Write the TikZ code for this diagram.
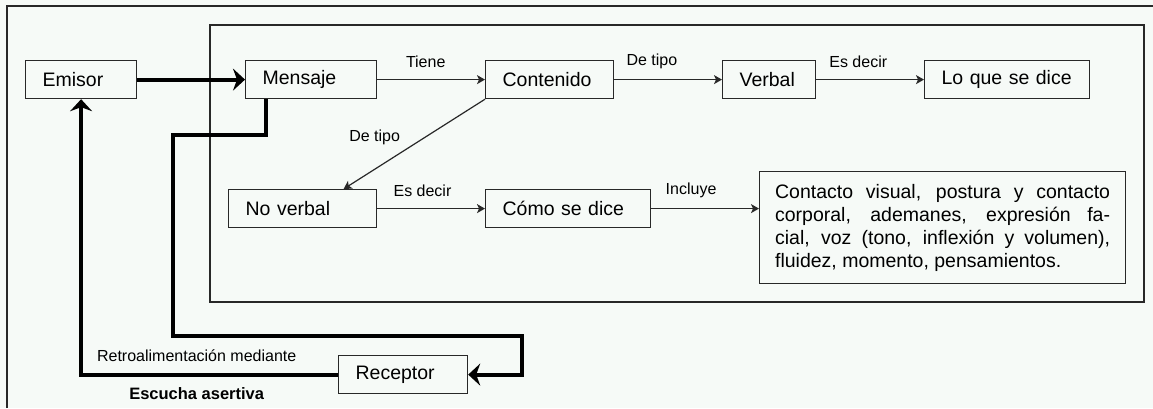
\documentclass[tikz,border=0pt]{standalone}
\usepackage{fontspec}
\setmainfont{Liberation Sans}
\usepackage[dvipsnames]{xcolor}
\usetikzlibrary{arrows.meta}
\usetikzlibrary{positioning}
\usetikzlibrary{calc}
\definecolor{fondo}{RGB}{246,250,247}
\definecolor{trazo}{RGB}{40,40,40}
\tikzset{caja/.style = {draw=trazo, line width=1.2pt, minimum height=38pt, inner xsep=17pt, inner ysep=0pt, text width=#1, align=left, anchor=north west, font=\fontsize{19.5}{22}\selectfont}}
\tikzset{fina/.style = {draw=trazo, line width=1.2pt, -{Stealth[length=8pt,width=9pt,inset=2pt]}}}
\tikzset{gruesa/.style = {draw=black, line width=4pt, -{Stealth[length=12pt,width=22pt,inset=4pt]}}}
\tikzset{etiq/.style = {font=\fontsize{16}{18}\selectfont, inner sep=0pt}}

\begin{document}
\begin{tikzpicture}[x=1pt,y=-1pt]
        \useasboundingbox (0,0) rectangle (1153,408);
        \fill [fondo] (0,0) rectangle (1153,408);
        \draw [trazo, line width=1.3pt] (7,408) -- (7,6) -- (1153,6);
        \draw [trazo, line width=1.3pt] (210,25) rectangle (1144,302);
        \node [caja=77pt] (emisor) at (25,60) {Emisor};
        \node [caja=97pt] (mensaje) at (245,60) {Mensaje};
        \node [caja=94pt] (contenido) at (485,60) {Contenido};
        \node [caja=59pt] (verbal) at (722,60) {Verbal};
        \node [caja=131pt] (loque) at (924,60) {Lo que se dice};
        \node [caja=114pt] (noverbal) at (228,189) {No verbal};
        \node [caja=131pt] (como) at (485,189) {Cómo se dice};
        \node [caja=335pt, minimum height=112pt, inner xsep=15.5pt, align=justify, font=\fontsize{19.5}{23}\selectfont] (lista) at (759,171) {Contacto visual, postura y contacto\linebreak corporal, ademanes, expresión fa-\linebreak cial, voz (tono, inflexión y volumen),\linebreak fluidez, momento, pensamientos.};
        \node [caja=95pt] (receptor) at (338,355) {Receptor};
        \draw [gruesa] (emisor) -- (mensaje);
        \draw [fina] (mensaje) -- node [etiq, pos=.45, yshift=18pt] {Tiene} (contenido);
        \draw [fina] (contenido) -- node [etiq, pos=.35, yshift=18pt] {De tipo} (verbal);
        \draw [fina] (verbal) -- node [etiq, pos=.39, yshift=18pt] {Es decir} (loque);
        \draw [fina] (contenido.south west) -- node [etiq, pos=.42, left=25pt] {De tipo} ($(noverbal.north)+(41,0)$);
        \draw [fina] (noverbal) -- node [etiq, pos=.42, yshift=18pt] {Es decir} (como);
        \draw [fina] (como) -- node [etiq, pos=.37, yshift=18pt] {Incluye} (como -| lista.west);
        \draw [gruesa] ([xshift=-45pt]mensaje.south) |- (173,135) |- (522,336) |- (receptor.east);
        \draw [gruesa] (receptor) -| node [etiq, pos=.275, yshift=19pt] {Retroalimentación mediante} node [etiq, pos=.275, yshift=-19pt, font=\fontsize{16.5}{18}\selectfont\bfseries] {Escucha asertiva} (emisor);
    \end{tikzpicture}
\end{document}
